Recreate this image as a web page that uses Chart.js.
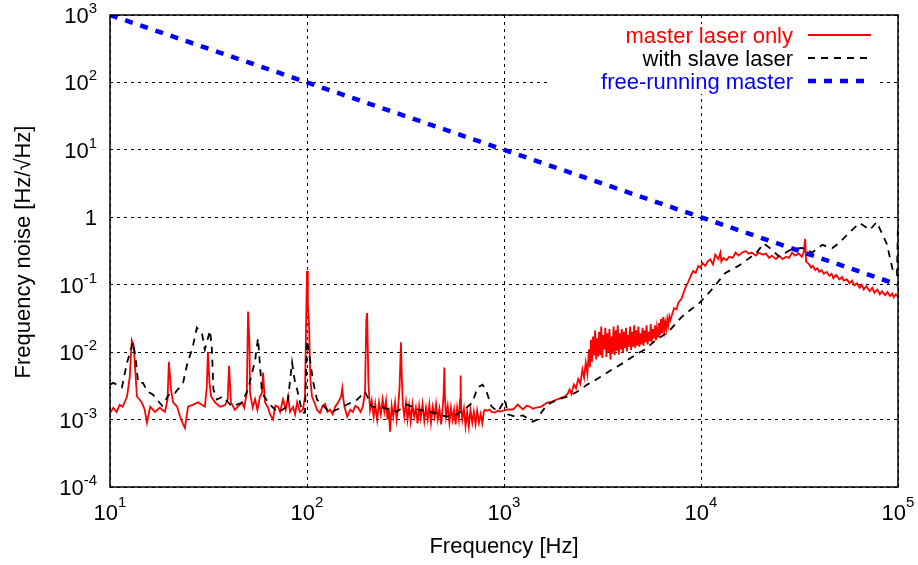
<!DOCTYPE html>
<html>
<head>
<meta charset="utf-8">
<script src="https://cdn.jsdelivr.net/npm/chart.js@4.4.0/dist/chart.umd.min.js"></script>
<style>
  html, body { margin: 0; padding: 0; background: #fff; }
  canvas { display: block; }
</style>
</head>
<body>
<canvas id="noiseChart" width="918" height="565"></canvas>
<script>
// decade ticks for both log axes
const xTicks = [10, 100, 1000, 10000, 100000];
const yTicks = [1e-4, 1e-3, 1e-2, 1e-1, 1, 10, 100, 1000];

// [frequency Hz, noise Hz/sqrt(Hz)]
const masterLaser = [
  [10, 1.25e-3], [10.4, 1.5e-3], [10.8, 1.3e-3], [11.2, 1.65e-3], [11.6, 1.55e-3],
  [12.2, 2.2e-3], [12.6, 4.3e-3], [12.9, 1.5e-2], [13.2, 1.25e-2], [13.7, 2.2e-3],
  [14.5, 1.8e-3], [15.0, 1.4e-3], [15.4, 9e-4], [16.0, 1.55e-3], [16.9, 1.3e-3],
  [17.9, 1.5e-3], [19.0, 1.3e-3], [19.6, 2.0e-3], [19.9, 7.2e-3], [20.4, 2.8e-3],
  [20.9, 1.8e-3], [21.9, 1.55e-3], [22.7, 1.1e-3], [23.5, 8.5e-4], [24.0, 7.5e-4],
  [24.9, 1.55e-3], [26.3, 1.65e-3], [28.0, 1.8e-3], [30.3, 1.55e-3], [31.0, 3e-3],
  [31.4, 1.0e-2], [32.0, 3.5e-3], [32.6, 2.2e-3], [34.1, 1.8e-3], [36.2, 1.55e-3],
  [38.4, 1.65e-3], [39.6, 2.0e-3], [40.2, 6.3e-3], [41.1, 1.8e-3], [43, 1.4e-3],
  [44.6, 1.55e-3], [46.8, 1.8e-3], [48, 1.5e-3], [49.5, 2.5e-3], [50.2, 4.0e-2],
  [51.0, 1.5e-2], [51.4, 2.5e-3], [53, 1.5e-3], [54.5, 2.0e-3], [56, 1.4e-3],
  [57.7, 2.2e-3], [59.1, 2.5e-3], [59.8, 5.0e-3], [61.2, 1.8e-3], [63.4, 1.5e-3],
  [64.9, 1.2e-3], [67.2, 1.0e-3], [69, 1.6e-3], [71.3, 1.55e-3], [73, 1.3e-3],
  [75.6, 2.0e-3], [78, 1.4e-3], [80.2, 2.2e-3], [82, 1.3e-3], [85.0, 1.55e-3],
  [87, 1.2e-3], [89.1, 1.8e-3], [92, 1.3e-3], [95.3, 1.4e-3], [97.7, 2.2e-3],
  [99, 3e-2], [100, 0.16], [101, 0.05], [102.4, 2.7e-2], [104, 4e-3],
  [106, 2.2e-3], [109.8, 1.7e-3], [112.4, 1.4e-3], [116.4, 1.25e-3], [120, 1.6e-3],
  [123.6, 1.7e-3], [127, 1.3e-3], [131, 1.4e-3], [135, 1.2e-3], [139, 1.55e-3],
  [144, 1.8e-3], [149, 2.2e-3], [151, 2.9e-3], [153, 2.0e-3], [155, 1.55e-3],
  [160, 1.1e-3], [162, 1.2e-3], [166, 1.4e-3], [171, 1.3e-3], [176, 1.6e-3],
  [182, 1.5e-3], [187, 1.3e-3], [192, 1.56e-3], [197, 2.5e-3], [200, 3.0e-2],
  [202, 3.8e-2], [205, 3.5e-3], [209, 1.4e-3], [213, 1.9e-3], [218, 1.1e-3],
  [222, 1.7e-3], [227, 1.0e-3], [232, 1.8e-3], [237, 1.2e-3], [242, 2.0e-3],
  [247, 1.3e-3], [252, 1.9e-3], [256, 1.0e-3], [260, 1.5e-3], [264, 6.6e-4],
  [269, 1.6e-3], [274, 1.1e-3], [280, 1.8e-3], [285, 1.0e-3], [290, 1.5e-3],
  [295, 3e-3], [300, 1.4e-2], [303, 4e-3], [307, 1.6e-3], [312, 1.1e-3],
  [318, 1.8e-3], [324, 1.0e-3], [330, 1.6e-3], [336, 9.5e-4], [343, 1.7e-3],
  [350, 1.1e-3], [357, 1.5e-3], [364, 8.8e-4], [371, 1.6e-3], [378, 1.05e-3],
  [386, 1.7e-3], [394, 9.5e-4], [402, 1.5e-3], [410, 1.0e-3], [418, 1.65e-3],
  [426, 9e-4], [435, 1.55e-3], [444, 1.1e-3], [452, 1.7e-3], [461, 1.0e-3],
  [470, 1.45e-3], [480, 8.5e-4], [489, 1.6e-3], [494, 2.5e-3], [498, 5.9e-3],
  [502, 2.0e-3], [508, 1.1e-3], [518, 1.6e-3], [528, 9e-4], [538, 1.5e-3],
  [548, 1.0e-3], [558, 1.4e-3], [568, 8.5e-4], [578, 1.5e-3], [590, 1.0e-3],
  [598, 2.0e-3], [602, 4.5e-3], [606, 1.5e-3], [614, 1.0e-3], [626, 1.45e-3],
  [638, 8e-4], [650, 1.3e-3], [663, 7.9e-4], [676, 1.4e-3], [690, 9e-4],
  [703, 1.3e-3], [717, 8.5e-4], [731, 1.35e-3], [746, 9e-4], [761, 1.2e-3],
  [776, 8.8e-4], [790, 1.3e-3], [800, 1.4e-3], [820, 1.35e-3], [844, 1.41e-3],
  [864, 1.3e-3], [900, 1.27e-3], [932, 1.35e-3], [960, 1.31e-3], [1011, 1.38e-3],
  [1047, 1.41e-3], [1110, 1.41e-3], [1136, 1.5e-3], [1176, 1.67e-3], [1247, 1.41e-3],
  [1300, 1.6e-3], [1349, 1.56e-3], [1400, 1.45e-3], [1462, 1.51e-3], [1546, 1.56e-3],
  [1659, 1.79e-3], [1750, 1.85e-3], [1852, 1.98e-3], [1950, 2.1e-3], [2032, 2.19e-3],
  [2103, 2.4e-3], [2152, 2.79e-3], [2200, 2.4e-3], [2260, 3.3e-3], [2320, 2.9e-3],
  [2380, 4.0e-3], [2440, 3.4e-3], [2500, 5.5e-3], [2550, 4.2e-3], [2600, 7e-3],
  [2650, 4.8e-3], [2700, 1.1e-2], [2730, 6e-3], [2765, 1.53e-2], [2800, 7.2e-3],
  [2830, 1.7e-2], [2865, 9e-3], [2900, 2.1e-2], [2935, 7.8e-3], [2970, 1.6e-2],
  [3005, 8.6e-3], [3040, 2.0e-2], [3080, 9e-3], [3115, 2.4e-2], [3155, 8.2e-3],
  [3190, 1.8e-2], [3230, 1.1e-2], [3270, 2.3e-2], [3310, 8.5e-3], [3350, 1.9e-2],
  [3390, 1.0e-2], [3430, 2.2e-2], [3470, 7.8e-3], [3515, 1.7e-2], [3555, 9.5e-3],
  [3600, 2.4e-2], [3645, 9e-3], [3690, 2.1e-2], [3735, 1.05e-2], [3780, 2.5e-2],
  [3825, 9.2e-3], [3870, 1.9e-2], [3920, 1.1e-2], [3965, 2.2e-2], [4015, 9.8e-3],
  [4060, 2.0e-2], [4110, 1.15e-2], [4160, 2.3e-2], [4210, 1.02e-2], [4260, 1.8e-2],
  [4315, 1.2e-2], [4365, 2.4e-2], [4420, 1.08e-2], [4470, 2.0e-2], [4525, 1.2e-2],
  [4580, 2.5e-2], [4635, 1.15e-2], [4695, 2.1e-2], [4750, 1.25e-2], [4810, 2.4e-2],
  [4865, 1.2e-2], [4925, 1.9e-2], [4985, 1.3e-2], [5045, 2.3e-2], [5110, 1.25e-2],
  [5170, 2.1e-2], [5235, 1.4e-2], [5295, 2.5e-2], [5360, 1.3e-2], [5425, 2.0e-2],
  [5490, 1.45e-2], [5560, 2.6e-2], [5625, 1.4e-2], [5695, 2.2e-2], [5765, 1.6e-2],
  [5835, 2.5e-2], [5905, 1.5e-2], [5975, 2.3e-2], [6050, 1.7e-2], [6120, 2.7e-2],
  [6195, 1.8e-2], [6270, 3.1e-2], [6350, 1.9e-2], [6425, 3.3e-2], [6505, 2.1e-2],
  [6585, 2.8e-2], [6665, 2.2e-2], [6745, 3.1e-2], [6825, 2.5e-2], [6910, 3.4e-2],
  [6995, 3.0e-2], [7300, 4.5e-2], [7494, 4.3e-2], [7700, 5.5e-2], [7943, 6.1e-2],
  [8323, 9e-2], [8616, 0.11], [8920, 0.14], [9135, 0.16], [9400, 0.15],
  [9687, 0.19], [9913, 0.18], [10200, 0.21], [10520, 0.19], [10800, 0.22],
  [11150, 0.237], [11500, 0.2], [11810, 0.28], [12250, 0.24], [12540, 0.3],
  [12690, 0.22], [13000, 0.25], [13470, 0.23], [13900, 0.26], [14500, 0.25],
  [14960, 0.3], [15500, 0.27], [16200, 0.3], [16840, 0.315], [17460, 0.29],
  [18100, 0.3], [18970, 0.27], [19650, 0.3], [20500, 0.28], [21340, 0.29],
  [22200, 0.25], [22930, 0.27], [24000, 0.24], [24900, 0.27], [26000, 0.24],
  [27020, 0.26], [28000, 0.25], [28990, 0.3], [30000, 0.27], [31440, 0.29],
  [32500, 0.26], [33200, 0.3], [33770, 0.48], [34170, 0.22], [35410, 0.2],
  [36260, 0.18], [37000, 0.19], [38000, 0.165], [39000, 0.175], [39840, 0.155],
  [41000, 0.165], [42000, 0.145], [43500, 0.155], [44840, 0.135], [46000, 0.145],
  [47000, 0.125], [48500, 0.14], [50460, 0.12], [52000, 0.13], [53000, 0.115],
  [55000, 0.12], [56780, 0.105], [58500, 0.115], [60000, 0.098], [62000, 0.105],
  [63900, 0.09], [65500, 0.1], [67000, 0.085], [69000, 0.095], [71900, 0.08],
  [74000, 0.09], [76000, 0.076], [78500, 0.085], [80900, 0.072], [83000, 0.08],
  [86000, 0.07], [88500, 0.078], [91000, 0.068], [93500, 0.074], [95000, 0.065],
  [97500, 0.072], [100000, 0.066]
];

const slaveLaser = [
  [10, 3.3e-3], [10.4, 3.5e-3], [11.5, 3.0e-3], [12.2, 7.0e-3], [13.1, 1.4e-2],
  [13.5, 8e-3], [13.9, 3.5e-3], [14.7, 3.5e-3], [15.5, 2.6e-3], [16.5, 2.35e-3],
  [18.4, 1.6e-3], [20.2, 2.5e-3], [21.4, 2.5e-3], [23.5, 3.5e-3], [24.6, 6.5e-3],
  [26.3, 1.2e-2], [27.6, 2.3e-2], [29.3, 1.9e-2], [30.3, 1.1e-2], [32.2, 2.1e-2],
  [32.9, 1.1e-2], [33.5, 2.8e-3], [34.9, 1.98e-3], [37.5, 2.2e-3], [41.6, 1.56e-3],
  [46.8, 1.79e-3], [50.2, 2.8e-3], [54.5, 7.5e-3], [56.4, 1.6e-2], [59.1, 2.5e-3],
  [63.4, 1.79e-3], [71.3, 1.27e-3], [79.3, 1.56e-3], [84.0, 7e-3], [87.0, 3.5e-3],
  [89.1, 2.8e-3], [94.5, 1.27e-3], [97.7, 1.27e-3], [100, 1.5e-2], [103.6, 7.8e-3],
  [107.3, 3.7e-3], [112.4, 1.98e-3], [131, 1.27e-3], [142, 1.41e-3], [160, 1.67e-3],
  [180, 1.98e-3], [197, 2.6e-3], [214, 1.56e-3], [241, 1.51e-3], [286, 1.31e-3],
  [322, 1.67e-3], [366, 1.41e-3], [436, 1.27e-3], [512, 1.11e-3], [575, 1.19e-3],
  [630, 1.41e-3], [692, 1.79e-3], [734, 3.0e-3], [778, 3.3e-3], [815, 2.6e-3],
  [864, 1.56e-3], [932, 1.31e-3], [1011, 1.98e-3], [1047, 1.2e-3], [1136, 1.11e-3],
  [1247, 1.15e-3], [1397, 9.3e-4], [1479, 1.0e-3], [1546, 1.27e-3], [1659, 1.67e-3],
  [1873, 1.98e-3], [2103, 2.19e-3], [2359, 2.6e-3], [2646, 3.3e-3], [2937, 3.92e-3],
  [3220, 4.65e-3], [3531, 5.5e-3], [4058, 7.0e-3], [4660, 9.2e-3], [5231, 1.11e-2],
  [5740, 1.41e-2], [6296, 1.71e-2], [6829, 2.0e-2], [7943, 3.28e-2], [8920, 4.33e-2],
  [9687, 5.15e-2], [11150, 8.0e-2], [13310, 0.15], [15500, 0.19], [18970, 0.29],
  [20850, 0.41], [22930, 0.33], [24900, 0.26], [27020, 0.3], [28990, 0.34],
  [32570, 0.35], [36690, 0.3], [41280, 0.39], [46460, 0.35], [50460, 0.42],
  [56780, 0.6], [63900, 0.82], [71900, 0.65], [78000, 0.85], [87800, 0.4],
  [94300, 0.16], [98800, 0.14], [100000, 0.8]
];

const freeRunning = [[10, 1000], [100000, 0.1]];

const FONT = '"Liberation Sans", Arial, Helvetica, sans-serif';

const toXY = (pts) => pts.map(([x, y]) => ({ x, y }));

// "10" with a raised exponent, anchored right or centred
function drawPower(ctx, value, x, baseline, align) {
  const exp = Math.round(Math.log10(value));
  ctx.textAlign = 'left';
  ctx.textBaseline = 'alphabetic';
  ctx.fillStyle = '#000';
  if (exp === 0) {
    ctx.font = '22px ' + FONT;
    const w = ctx.measureText('1').width;
    ctx.fillText('1', align === 'right' ? x - w : x - w / 2, baseline);
    return;
  }
  const sup = String(exp);
  ctx.font = '22px ' + FONT;
  const wb = ctx.measureText('10').width;
  ctx.font = '15px ' + FONT;
  const ws = ctx.measureText(sup).width;
  const start = align === 'right' ? x - wb - ws : x - (wb + ws) / 2;
  ctx.font = '22px ' + FONT;
  ctx.fillText('10', start, baseline);
  ctx.font = '15px ' + FONT;
  ctx.fillText(sup, start + wb, baseline - (align === 'right' ? 10 : 13));
}

const framePlugin = {
  id: 'frame',
  beforeDatasetsDraw(chart) {
    const { ctx, chartArea: a } = chart;
    // opaque key box
    ctx.save();
    ctx.fillStyle = '#fff';
    ctx.fillRect(a.right - 350, a.top + 9, 330, 70);
    ctx.restore();
  },
  afterDraw(chart) {
    const { ctx, chartArea: a, scales } = chart;
    ctx.save();
    ctx.strokeStyle = '#000';
    ctx.lineWidth = 1.5;
    ctx.setLineDash([]);
    ctx.strokeRect(a.left, a.top, a.right - a.left, a.bottom - a.top);

    yTicks.forEach(v => drawPower(ctx, v, a.left - 13, scales.y.getPixelForValue(v) + 8, 'right'));
    xTicks.forEach(v => drawPower(ctx, v, scales.x.getPixelForValue(v), a.bottom + 33, 'center'));

    ctx.font = '22px ' + FONT;
    ctx.fillStyle = '#000';
    ctx.textAlign = 'center';
    ctx.textBaseline = 'alphabetic';
    ctx.fillText('Frequency [Hz]', (a.left + a.right) / 2, a.bottom + 66);
    ctx.save();
    ctx.translate(30, (a.top + a.bottom) / 2 + 1);
    ctx.rotate(-Math.PI / 2);
    ctx.fillText('Frequency noise [Hz/\u221AHz]', 0, 0);
    ctx.restore();

    // key: text right-aligned, sample to its right
    const items = chart.data.datasets.slice().reverse();
    items.forEach((ds, i) => {
      const y = a.top + 20 + i * 23;
      ctx.font = '22px ' + FONT;
      ctx.textAlign = 'right';
      ctx.fillStyle = ds.borderColor;
      ctx.fillText(ds.label, a.right - 105, y + 8);
      ctx.beginPath();
      ctx.strokeStyle = ds.borderColor;
      ctx.lineWidth = ds.borderWidth;
      ctx.lineCap = 'butt';
      ctx.setLineDash(ds.borderDash || []);
      ctx.moveTo(a.right - 90, y);
      ctx.lineTo(a.right - 27, y);
      ctx.stroke();
    });
    ctx.restore();
  }
};

new Chart(document.getElementById('noiseChart'), {
  type: 'scatter',
  data: {
    datasets: [
      {
        label: 'free-running master',
        data: toXY(freeRunning),
        showLine: true,
        borderColor: '#0000ff',
        borderWidth: 4.5,
        borderDash: [8, 8],
        borderCapStyle: 'butt'
      },
      {
        label: 'with slave laser',
        data: toXY(slaveLaser),
        showLine: true,
        borderColor: '#000000',
        borderWidth: 1.8,
        borderDash: [7, 6],
        borderCapStyle: 'butt'
      },
      {
        label: 'master laser only',
        data: toXY(masterLaser),
        showLine: true,
        borderColor: '#ff0000',
        borderWidth: 1.8
      }
    ]
  },
  options: {
    responsive: false,
    animation: false,
    devicePixelRatio: 1,
    events: [],
    layout: { padding: { top: 15, right: 20, left: 0, bottom: 0 } },
    elements: { point: { radius: 0 }, line: { tension: 0 } },
    plugins: { legend: { display: false }, tooltip: { enabled: false } },
    scales: {
      x: {
        type: 'logarithmic',
        min: 10,
        max: 100000,
        afterBuildTicks: (s) => { s.ticks = xTicks.map(v => ({ value: v })); },
        afterFit: (s) => { s.height = 78; },
        ticks: { display: false },
        grid: { color: '#000', lineWidth: 1, drawTicks: false },
        border: { display: false, dash: [3, 4] }
      },
      y: {
        type: 'logarithmic',
        min: 1e-4,
        max: 1e3,
        afterBuildTicks: (s) => { s.ticks = yTicks.map(v => ({ value: v })); },
        afterFit: (s) => { s.width = 110; },
        ticks: { display: false },
        grid: { color: '#000', lineWidth: 1, drawTicks: false },
        border: { display: false, dash: [3, 4] }
      }
    }
  },
  plugins: [framePlugin]
});
</script>
</body>
</html>
